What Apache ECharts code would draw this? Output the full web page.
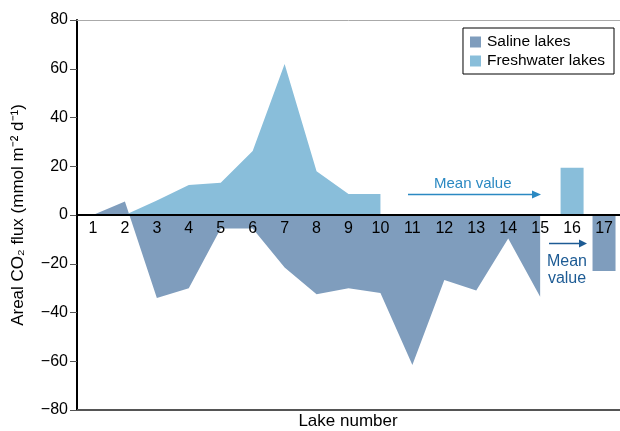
<!DOCTYPE html>
<html>
<head>
<meta charset="utf-8">
<script src="https://cdn.jsdelivr.net/npm/echarts@6/dist/echarts.min.js"></script>
<style>html,body{margin:0;padding:0;background:#fff}#c{width:620px;height:431px}</style>
</head>
<body>
<div id="c"></div>
<script>
var lakes = ['1','2','3','4','5','6','7','8','9','10','11','12','13','14','15','16','17'];
var salineLakes = [0, 5.5, -34, -30, -5.5, -5.5, -21.5, -32.5, -30, -32, -61.5, -26.7, -31, -9.6, -33.5, null, null];
var freshwaterLakes = [null, 0, 6, 12.3, 13.2, 26.3, 62, 18, 8.6, 8.6, null, null, null, null, null, null, null];
var freshwaterMean = 19.4;
var salineMean = -23;
var yTicks = {min: -80, max: 80, step: 20};

var SAL = '#7f9dbd', FRESH = '#89beda';
var FONT = '"Liberation Sans", Arial, Helvetica, sans-serif';
var GRID = {left: 77, right: 0, top: 20, bottom: 21};
var gridH = 431 - GRID.top - GRID.bottom;
var zeroOffset = -gridH * (0 - yTicks.min) / (yTicks.max - yTicks.min);

var meanData = lakes.map(function(){ return null; });
meanData[15] = {value: freshwaterMean, itemStyle: {color: FRESH}};
meanData[16] = {value: salineMean, itemStyle: {color: SAL}};

var chart = echarts.init(document.getElementById('c'), null, {renderer: 'canvas'});
chart.setOption({
  animation: false,
  textStyle: {fontFamily: FONT},
  grid: {left: GRID.left, right: GRID.right, top: GRID.top, bottom: GRID.bottom, containLabel: false},
  legend: {
    data: [{name: 'Saline lakes', icon: 'rect'}, {name: 'Freshwater lakes', icon: 'rect'}],
    orient: 'vertical', right: 6, top: 28,
    borderColor: '#000', borderWidth: 1, backgroundColor: '#fff',
    padding: [6, 9, 5, 7], itemWidth: 11, itemHeight: 11, itemGap: 3,
    textStyle: {fontSize: 15.5, color: '#000', fontFamily: FONT, padding: [0, 0, 0, 1]}
  },
  xAxis: {
    type: 'category', data: lakes, boundaryGap: true, z: 10,
    position: 'bottom', offset: zeroOffset,
    axisLine: {onZero: false, lineStyle: {color: '#000', width: 2}},
    axisTick: {inside: true, length: 5, lineStyle: {color: '#000', width: 1.5}},
    axisLabel: {color: '#000', fontSize: 16, margin: 6, fontFamily: FONT}
  },
  yAxis: {
    type: 'value', min: yTicks.min, max: yTicks.max, interval: yTicks.step,
    name: 'Areal CO\u2082 flux (mmol m\u207B\u00B2 d\u207B\u00B9)',
    nameLocation: 'middle', nameGap: 50, nameRotate: 90,
    nameTextStyle: {fontSize: 17, color: '#000', fontFamily: FONT},
    axisLine: {show: true, lineStyle: {color: '#000', width: 2}},
    axisTick: {show: true, length: 7, lineStyle: {color: '#555'}},
    axisLabel: {fontSize: 16, color: '#000', margin: 9, fontFamily: FONT,
      formatter: function(v){ return v < 0 ? '\u2212' + Math.abs(v) : String(v); }},
    splitLine: {show: false}
  },
  series: [
    {
      name: 'Saline lakes', type: 'line', data: salineLakes, symbol: 'none',
      itemStyle: {color: SAL}, lineStyle: {width: 0, color: SAL},
      areaStyle: {color: SAL, opacity: 1}, z: 2, silent: true,
      markLine: {
        silent: true, symbol: 'none', label: {show: false},
        data: [
          {yAxis: yTicks.max, lineStyle: {color: '#aaa', width: 1, type: 'solid'}},
          {yAxis: yTicks.min, lineStyle: {color: '#555', width: 2, type: 'solid'}}
        ]
      }
    },
    {
      name: 'Freshwater lakes', type: 'line', data: freshwaterLakes, symbol: 'none',
      itemStyle: {color: FRESH}, lineStyle: {width: 0, color: FRESH},
      areaStyle: {color: FRESH, opacity: 1}, z: 3, silent: true
    },
    {
      name: 'Mean', type: 'bar', data: meanData, barWidth: 23, silent: true, z: 3
    }
  ],
  graphic: [
    {type: 'text', left: 434, top: 176, style: {text: 'Mean value', fill: '#2b89c2', font: '15px ' + FONT}},
    {type: 'line', shape: {x1: 408, y1: 194.5, x2: 535, y2: 194.5}, style: {stroke: '#2b89c2', lineWidth: 1.5}},
    {type: 'polygon', shape: {points: [[532, 190.5], [541, 194.5], [532, 198.5]]}, style: {fill: '#2b89c2'}},
    {type: 'line', shape: {x1: 549, y1: 243.5, x2: 581, y2: 243.5}, style: {stroke: '#1d5b94', lineWidth: 1.5}},
    {type: 'polygon', shape: {points: [[579, 239.5], [587, 243.5], [579, 247.5]]}, style: {fill: '#1d5b94'}},
    {type: 'text', x: 567, y: 262, style: {text: 'Mean', fill: '#1d5b94', font: '16px ' + FONT, textAlign: 'center', textVerticalAlign: 'middle'}},
    {type: 'text', x: 567, y: 279, style: {text: 'value', fill: '#1d5b94', font: '16px ' + FONT, textAlign: 'center', textVerticalAlign: 'middle'}},
    {type: 'text', x: 348, y: 421, style: {text: 'Lake number', fill: '#000', font: '17px ' + FONT, textAlign: 'center', textVerticalAlign: 'middle'}}
  ]
});
</script>
</body>
</html>
